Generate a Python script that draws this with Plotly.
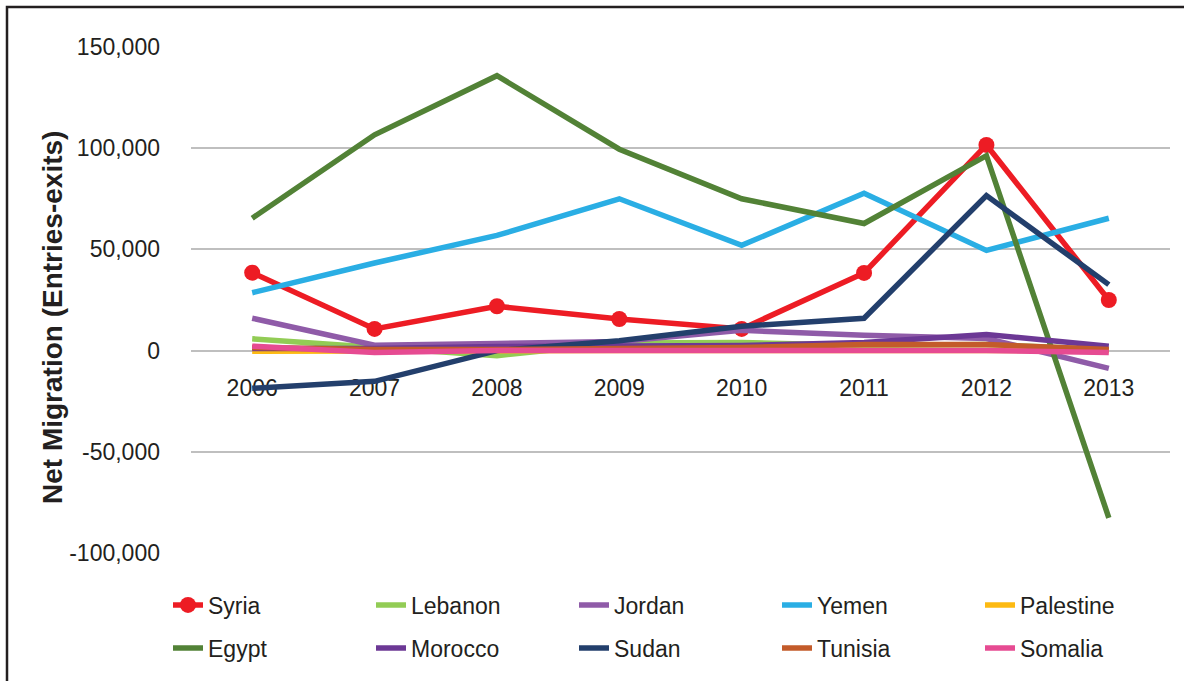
import plotly.graph_objects as go

years = [2006, 2007, 2008, 2009, 2010, 2011, 2012, 2013]

syria     = [38500, 10700, 21900, 15600, 10700, 38400, 101600, 25000]
lebanon   = [5800, 1500, -2500, 3800, 4000, 2500, 3000, 500]
jordan    = [16000, 2700, 3500, 4500, 10000, 7600, 6000, -8800]
yemen     = [28600, 43300, 56900, 75000, 52000, 77700, 49500, 65400]
palestine = [-300, 0, 0, 0, 0, 0, 0, 0]
egypt     = [65400, 106600, 135800, 99500, 75000, 62800, 96300, -82600]
morocco   = [1000, 1000, 2000, 2000, 2500, 4000, 8000, 2200]
sudan     = [-18600, -15200, 0, 4900, 12000, 16000, 76600, 32600]
tunisia   = [1500, 500, 500, 1000, 1500, 3000, 3000, 500]
somalia   = [2200, -1000, 0, 0, 0, 0, 0, -1000]

series = [
    ("Syria", syria, "#ED1C24", "legend"),
    ("Lebanon", lebanon, "#92CC55", "legend"),
    ("Jordan", jordan, "#8F5BA8", "legend"),
    ("Yemen", yemen, "#2AAEE4", "legend"),
    ("Palestine", palestine, "#FDBA12", "legend2"),
    ("Egypt", egypt, "#528236", "legend3"),
    ("Morocco", morocco, "#6C3895", "legend3"),
    ("Sudan", sudan, "#233F6C", "legend3"),
    ("Tunisia", tunisia, "#C35B2A", "legend3"),
    ("Somalia", somalia, "#E64B92", "legend4"),
]

y_ticks = [-100000, -50000, 0, 50000, 100000, 150000]
y_ticktext = ["-100,000", "-50,000", "0", "50,000", "100,000", "150,000"]

FONT = "Liberation Sans, Arial, sans-serif"
TXT = "#231F20"

fig = go.Figure()
for name, vals, color, leg in series:
    kw = dict(mode="lines")
    if name == "Syria":
        kw = dict(mode="lines+markers", marker=dict(size=16, color=color))
    fig.add_trace(go.Scatter(
        x=years, y=vals, name=name,
        line=dict(color=color, width=5.5),
        legend=leg, **kw,
    ))

PW = 979.0
def px_to_paper_x(px):
    return (px - 191) / PW

row1_y = (553 - 605) / 506.0
row2_y = (553 - 648) / 506.0

def leg(xpx, y, ew):
    return dict(
        orientation="h", x=px_to_paper_x(xpx), xanchor="left", y=y, yanchor="middle",
        entrywidth=ew, entrywidthmode="pixels", font=dict(size=23, color=TXT),
        bgcolor="rgba(0,0,0,0)",
    )

fig.update_layout(
    width=1184, height=681,
    margin=dict(l=191, r=14, t=47, b=128, autoexpand=False),
    paper_bgcolor="white", plot_bgcolor="white",
    font=dict(family=FONT, size=23, color=TXT),
    xaxis=dict(
        range=[2005.5, 2013.5], tickvals=years, ticktext=[str(y) for y in years],
        showgrid=False, showline=False, zeroline=False,
        anchor="free", position=0.4, ticklabelstandoff=21,
        layer="below traces", tickfont=dict(size=23),
    ),
    yaxis=dict(
        range=[-100000, 150000], tickvals=y_ticks, ticktext=y_ticktext,
        showgrid=True, gridcolor="#BFBFBF", gridwidth=2,
        zeroline=False, showline=False, ticklabelstandoff=30,
        tickfont=dict(size=23),
    ),
    legend=leg(168, row1_y, 158),
    legend2=leg(980, row1_y, 110),
    legend3=leg(168, row2_y, 158),
    legend4=leg(980, row2_y, 110),
    showlegend=True,
)

fig.add_annotation(
    text="<b>Net Migration (Entries-exits)</b>", textangle=-90,
    xref="paper", yref="paper", x=px_to_paper_x(52), y=(553 - 318) / 506.0,
    xanchor="center", yanchor="middle",
    showarrow=False, font=dict(size=28, color=TXT),
)

fig.add_shape(
    type="rect", xref="paper", yref="paper",
    x0=px_to_paper_x(7), x1=1.1, y0=-0.4, y1=(553 - 7) / 506.0,
    line=dict(color=TXT, width=2.5), fillcolor="rgba(0,0,0,0)", layer="below",
)

fig.write_html("out.html", config={"displayModeBar": False},
               post_script="document.body.style.margin='0';")
